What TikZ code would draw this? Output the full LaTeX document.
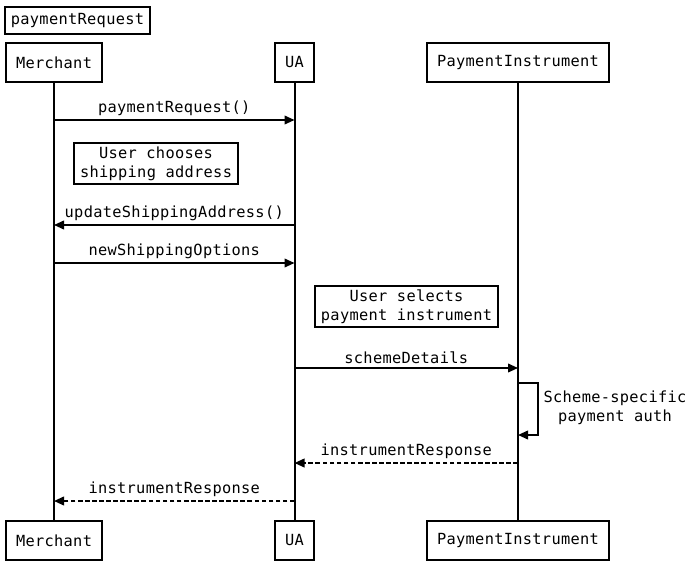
\documentclass[tikz,border=0pt]{standalone}
\usepackage{fontspec}
\setmonofont[LetterSpace=2]{DejaVu Sans Mono}
\usetikzlibrary{arrows.meta,positioning,calc}

\tikzset{
  seqfont/.style={font=\ttfamily\fontsize{11.5}{14.25}\selectfont},
  actor/.style={draw,line width=1.5pt,fill=white,seqfont,inner xsep=7.8pt,minimum height=29pt},
  note/.style={draw,line width=1.5pt,fill=white,seqfont,align=center,inner xsep=4.5pt,inner ysep=3pt},
  life/.style={line width=1.5pt},
  msg/.style={line width=1.3pt,-{Triangle[length=7.5pt,width=6.5pt]}},
  reply/.style={msg,dash pattern=on 3.5pt off 1.8pt},
  lbl/.style={midway,above,seqfont,inner sep=2.5pt}
}

\begin{document}
\begin{tikzpicture}[x=0.75pt,y=-0.75pt]
  \useasboundingbox (0,0) rectangle (692,567);

  % title
  \node[draw,line width=1.5pt,seqfont,inner xsep=4.5pt,minimum height=20pt] (title) at (77.5,20.5) {paymentRequest};

  % participants, top and bottom
  \node[actor] (merchTop) at (54,62.5) {Merchant};
  \node[actor] (uaTop) at (294.5,62.5) {UA};
  \node[actor] (instTop) at (518,62.5) {PaymentInstrument};
  \node[actor] (merchBot) at (54,540.5) {Merchant};
  \node[actor] (uaBot) at (294.5,540.5) {UA};
  \node[actor] (instBot) at (518,540.5) {PaymentInstrument};

  % lifelines
  \draw[life] (merchTop) -- (merchBot);
  \draw[life] (uaTop) -- (uaBot);
  \draw[life] (instTop) -- (instBot);

  % message end points on the lifelines
  \coordinate (reqM) at (merchTop |- 0,120);
  \coordinate (reqU) at (uaTop |- 0,120);
  \coordinate (updU) at (uaTop |- 0,225);
  \coordinate (updM) at (merchTop |- 0,225);
  \coordinate (optM) at (merchTop |- 0,263);
  \coordinate (optU) at (uaTop |- 0,263);
  \coordinate (schU) at (uaTop |- 0,368);
  \coordinate (schI) at (instTop |- 0,368);
  \coordinate (authA) at (instTop |- 0,383);
  \coordinate (authB) at (instTop |- 0,435);
  \coordinate (resI) at (instTop |- 0,463);
  \coordinate (resU) at (uaTop |- 0,463);
  \coordinate (resU2) at (uaTop |- 0,501);
  \coordinate (resM) at (merchTop |- 0,501);

  % notes
  \node[note] (chooseNote) at (156,163.5) {User chooses\\shipping address};
  \node[note] (selectNote) at (406.5,306.5) {User selects\\payment instrument};

  % messages
  \draw[msg] (reqM) -- node[lbl] {paymentRequest()} (reqU);
  \draw[msg] (updU) -- node[lbl] {updateShippingAddress()} (updM);
  \draw[msg] (optM) -- node[lbl] {newShippingOptions} (optU);
  \draw[msg] (schU) -- node[lbl] {schemeDetails} (schI);
  \draw[msg] (authA) -- ++(20,0) |- (authB);
  \node[seqfont,align=center] (authLbl) at (615,407.5) {Scheme-specific\\payment auth};
  \draw[reply] (resI) -- node[lbl] {instrumentResponse} (resU);
  \draw[reply] (resU2) -- node[lbl] {instrumentResponse} (resM);

\end{tikzpicture}
\end{document}
